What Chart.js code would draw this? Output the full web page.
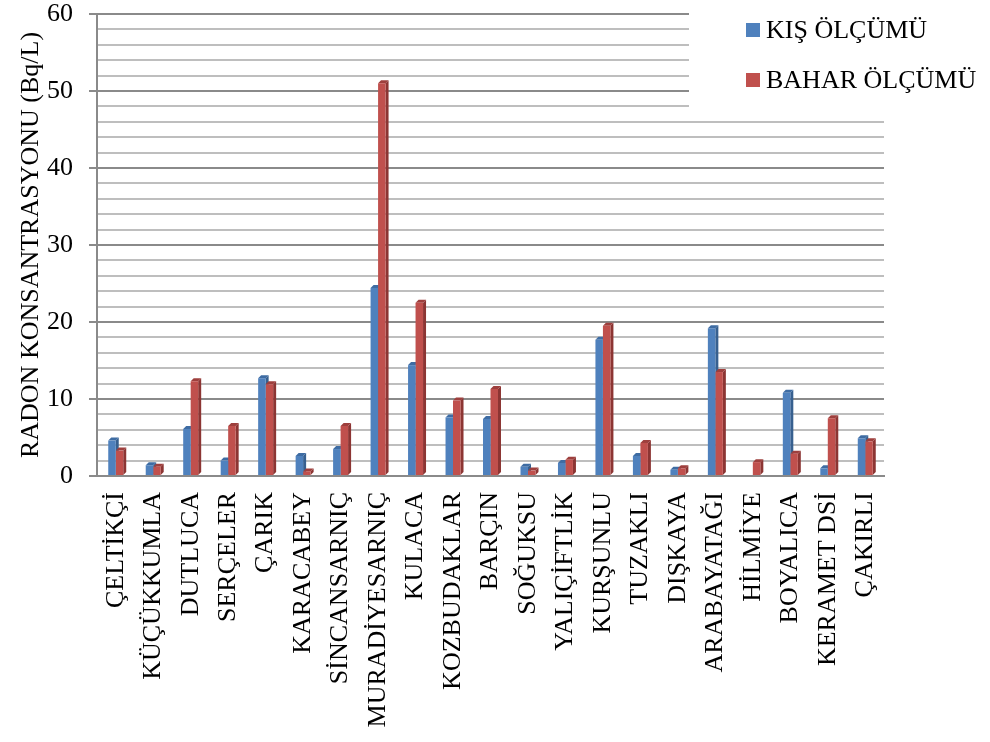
<!DOCTYPE html>
<html>
<head>
<meta charset="utf-8">
<script src="https://cdn.jsdelivr.net/npm/chart.js@4"></script>
<style>
  html, body { margin: 0; padding: 0; background: #fff; }
  #wrap { position: relative; width: 990px; height: 742px; }
</style>
</head>
<body>
<div id="wrap"><canvas id="myChart" width="990" height="742"></canvas></div>
<script>
const istasyonlar = ["ÇELTİKÇİ", "KÜÇÜKKUMLA", "DUTLUCA", "SERÇELER", "ÇARIK", "KARACABEY",
  "SİNCANSARNIÇ", "MURADİYESARNIÇ", "KULACA", "KOZBUDAKLAR", "BARÇIN", "SOĞUKSU",
  "YALIÇİFTLİK", "KURŞUNLU", "TUZAKLI", "DIŞKAYA", "ARABAYATAĞI", "HİLMİYE",
  "BOYALICA", "KERAMET DSİ", "ÇAKIRLI"]
const kisOlcumu = [4.6, 1.4, 6.1, 2.0, 12.7, 2.6, 3.5, 24.4, 14.4, 7.6, 7.4, 1.2,
  1.7, 17.7, 2.6, 0.8, 19.2, 0, 10.8, 1.0, 4.9]
const baharOlcumu = [3.3, 1.2, 12.3, 6.5, 11.9, 0.6, 6.5, 51.0, 22.5, 9.8, 11.3, 0.7,
  2.1, 19.5, 4.3, 1.0, 13.5, 1.8, 2.9, 7.5, 4.5]
const yEtiketleri = [0, 10, 20, 30, 40, 50, 60]

const mavi = "#4F81BD"
const kirmizi = "#C0504D"
const yuzRenkleri = {
  [mavi]: { yan: "#37608F", ust: "#3E6CA3" },
  [kirmizi]: { yan: "#8C3533", ust: "#9E3F3D" }
}
const yazi = "'Liberation Serif', 'Times New Roman', serif"

// bars get a thin side and top face so they look like the old 3D columns
const kolonYuzleri = {
  id: "kolonYuzleri",
  beforeDatasetsDraw(chart) {
    const ctx = chart.ctx
    const d = 3
    chart.data.datasets.forEach((ds, i) => {
      const renk = yuzRenkleri[ds.backgroundColor]
      chart.getDatasetMeta(i).data.forEach((bar) => {
        const p = bar.getProps(["x", "y", "base", "width"], true)
        if (p.base - p.y < 0.5) return
        const sol = p.x - p.width / 2
        const sag = p.x + p.width / 2
        ctx.save()
        ctx.fillStyle = renk.yan
        ctx.beginPath()
        ctx.moveTo(sag, p.y)
        ctx.lineTo(sag + d, p.y - d)
        ctx.lineTo(sag + d, p.base - d)
        ctx.lineTo(sag, p.base)
        ctx.closePath()
        ctx.fill()
        ctx.fillStyle = renk.ust
        ctx.beginPath()
        ctx.moveTo(sol, p.y)
        ctx.lineTo(sol + d, p.y - d)
        ctx.lineTo(sag + d, p.y - d)
        ctx.lineTo(sag, p.y)
        ctx.closePath()
        ctx.fill()
        ctx.restore()
      })
    })
  }
}

// legend sits in a white box over the top right of the grid
const sagUstLejant = {
  id: "sagUstLejant",
  afterDraw(chart) {
    const ctx = chart.ctx
    ctx.save()
    ctx.fillStyle = "#fff"
    ctx.fillRect(689, 0, 301, 108)
    ctx.font = "26px " + yazi
    ctx.textBaseline = "alphabetic"
    chart.data.datasets.forEach((ds, i) => {
      const y = 29 + i * 50
      ctx.fillStyle = ds.backgroundColor
      ctx.fillRect(746, y - 6, 14, 14)
      ctx.fillStyle = "#000"
      ctx.fillText(ds.label, 766, y + 9)
    })
    ctx.restore()
  }
}

const ctx = document.getElementById("myChart").getContext("2d")
window.myChart = new Chart(ctx, {
  type: "bar",
  data: {
    labels: istasyonlar,
    datasets: [
      { label: "KIŞ ÖLÇÜMÜ", data: kisOlcumu, backgroundColor: mavi },
      { label: "BAHAR ÖLÇÜMÜ", data: baharOlcumu, backgroundColor: kirmizi }
    ]
  },
  options: {
    responsive: false,
    animation: false,
    layout: { padding: { top: 0, right: 106, left: 0, bottom: 0 } },
    datasets: {
      bar: { categoryPercentage: 0.4, barPercentage: 1.0 }
    },
    plugins: {
      legend: { display: false },
      tooltip: { enabled: false }
    },
    scales: {
      x: {
        afterFit(scale) {
          scale.height = 266
          scale.paddingLeft = 0
          scale.paddingRight = 0
        },
        grid: { display: false, drawTicks: false },
        border: { color: "#8A8A8A", width: 2 },
        ticks: {
          autoSkip: false,
          minRotation: 90,
          maxRotation: 90,
          padding: 16,
          color: "#000",
          font: { family: yazi, size: 26 }
        }
      },
      y: {
        min: 0,
        max: 60,
        afterFit(scale) {
          scale.width = 97
          scale.paddingTop = 14
          scale.paddingBottom = 0
        },
        border: { color: "#8A8A8A", width: 2 },
        grid: {
          lineWidth: 2,
          tickLength: 8,
          color: (c) => (c.tick && c.tick.value % 10 === 0 ? "#8A8A8A" : "#BEBEBE"),
          tickColor: (c) => (c.tick && c.tick.value % 10 === 0 ? "#8A8A8A" : "rgba(0,0,0,0)")
        },
        ticks: {
          stepSize: 2,
          autoSkip: false,
          padding: 16,
          color: "#000",
          font: { family: yazi, size: 26 },
          callback: (v) => (yEtiketleri.includes(v) ? v : "")
        },
        title: {
          display: true,
          text: "RADON KONSANTRASYONU (Bq/L)",
          color: "#000",
          font: { family: yazi, size: 26 },
          padding: { top: 16, bottom: 0 }
        }
      }
    }
  },
  plugins: [kolonYuzleri, sagUstLejant]
})
</script>
</body>
</html>
